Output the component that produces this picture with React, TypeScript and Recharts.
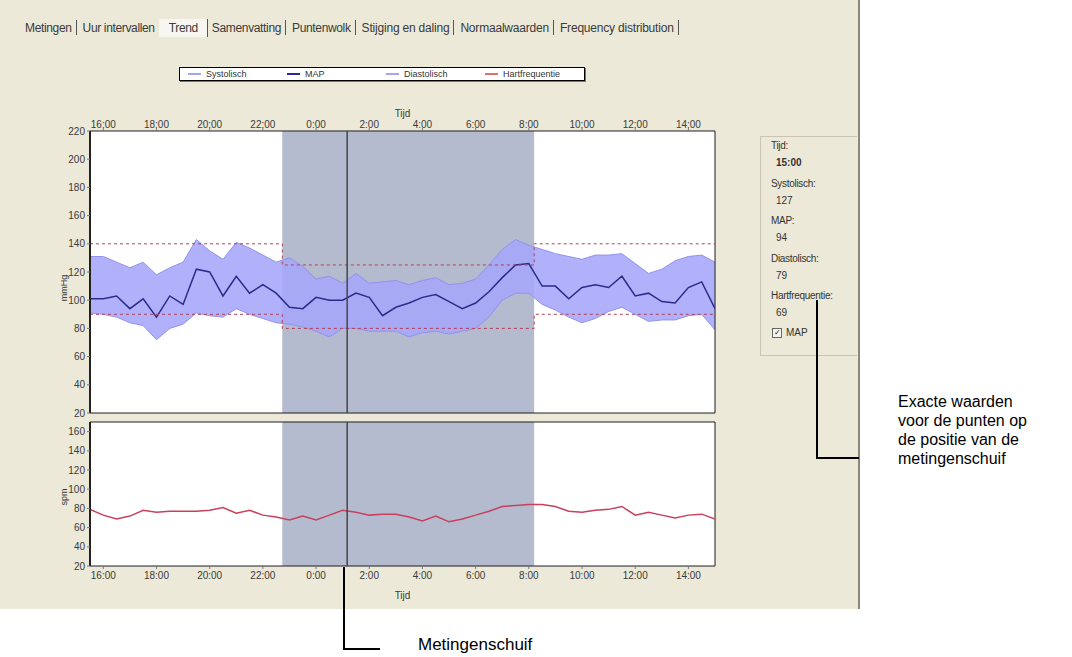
import React from "react";
import { ComposedChart, Area, Line, XAxis, YAxis, CartesianGrid, ReferenceArea, ReferenceLine } from "recharts";

// hours after 16:00 (first reading 15:30, last 15:00 next day)
const hours = [-0.5, 0, 0.5, 1, 1.5, 2, 2.5, 3, 3.5, 4, 4.5, 5, 5.5, 6, 6.5, 7, 7.5, 8, 8.5, 9, 9.5, 10, 10.5, 11, 11.5, 12, 12.5, 13, 13.5, 14, 14.5, 15, 15.5, 16, 16.5, 17, 17.5, 18, 18.5, 19, 19.5, 20, 20.5, 21, 21.5, 22, 22.5, 23];
const systolic = [131, 131, 127, 123, 127, 118, 123, 127, 143, 135, 129, 141, 137, 132, 127, 130, 124, 115, 117, 112, 119, 112, 113, 114, 111, 114, 116, 111, 112, 115, 125, 136, 143, 139, 136, 133, 131, 129, 132, 132, 133, 126, 119, 122, 128, 131, 132, 127];
const mapValues = [101, 101, 103, 94, 101, 88, 103, 97, 122, 120, 103, 117, 105, 111, 105, 95, 94, 102, 100, 100, 105, 102, 89, 95, 98, 102, 104, 99, 94, 98, 106, 116, 125, 126, 110, 110, 101, 109, 111, 109, 117, 103, 105, 99, 98, 109, 113, 94];
const diastolic = [91, 90, 88, 84, 82, 72, 80, 83, 91, 89, 88, 94, 90, 87, 84, 83, 81, 78, 74, 80, 80, 78, 78, 78, 74, 77, 78, 76, 78, 80, 88, 100, 105, 105, 97, 93, 88, 84, 87, 92, 95, 90, 85, 86, 86, 89, 90, 79];
const heartRate = [79, 73, 69, 72, 78, 76, 77, 77, 77, 78, 81, 75, 78, 73, 71, 68, 72, 68, 73, 78, 76, 73, 74, 74, 71, 67, 72, 66, 69, 73, 77, 82, 83, 84, 84, 82, 77, 76, 78, 79, 82, 73, 76, 73, 70, 73, 74, 69];

// day / night limits
const limitTimes = [-0.5, 6.73, 16.2, 23];
const sysLimit = [140, 125, 140, 140];
const diaLimit = [90, 80, 90, 90];
const nightTimes = [6.73, 16.2];
const cursorTime = 9.17;

const xDomain = [-0.5, 23];
const bpDomain = [20, 220];
const hrDomain = [20, 170];
const xTicks = [0, 2, 4, 6, 8, 10, 12, 14, 16, 18, 20, 22];
const xTickLabels = ["16:00", "18:00", "20:00", "22:00", "0:00", "2:00", "4:00", "6:00", "8:00", "10:00", "12:00", "14:00"];
const bpTicks = [20, 40, 60, 80, 100, 120, 140, 160, 180, 200, 220];
const hrTicks = [20, 40, 60, 80, 100, 120, 140, 160];

const tabs = ["Metingen", "Uur intervallen", "Trend", "Samenvatting", "Puntenwolk", "Stijging en daling", "Normaalwaarden", "Frequency distribution"];
const activeTab = "Trend";
const legendNames = ["Systolisch", "MAP", "Diastolisch", "Hartfrequentie"];
const legendColors = ["#a4a4f4", "#2b2b8c", "#a4a4f4", "#e07070"];
const panelLabels = ["Tijd:", "Systolisch:", "MAP:", "Diastolisch:", "Hartfrequentie:"];
const panelValues = ["15:00", "127", "94", "79", "69"];
const noteLines = ["Exacte waarden", "voor de punten op", "de positie van de", "metingenschuif"];

const data = hours.map((t, i) => ({ t, band: [diastolic[i], systolic[i]], map: mapValues[i], hr: heartRate[i] }));
const limitData = limitTimes.map((t, i) => ({ t, sys: sysLimit[i], dia: diaLimit[i] }));
const bpNight = nightTimes.map((t) => ({ t, night: bpDomain }));
const hrNight = nightTimes.map((t) => ({ t, night: hrDomain }));

const uiFont = "'Liberation Sans', Arial, sans-serif";
const tickStyle = { fontSize: 10, fill: "#3a3a3a", fontFamily: uiFont };
const fmt = (v: number) => xTickLabels[xTicks.indexOf(v)] ?? "";

const vLabel = (text: string, dy: number) => (props: any) => {
  const vb = props.viewBox;
  const x = vb.x + 4;
  const y = vb.y + vb.height / 2 + dy;
  return (
    <text x={x} y={y} transform={`rotate(-90 ${x} ${y})`} textAnchor="middle" dominantBaseline="central" style={{ ...tickStyle, fontSize: 9 } as any}>
      {text}
    </text>
  );
};

export default function App() {
  return (
    <div style={{ position: "absolute", left: 0, top: 0, width: 1072, height: 657, background: "#fff", fontFamily: uiFont, overflow: "hidden" }}>
      {/* window */}
      <div style={{ position: "absolute", left: 0, top: 0, width: 858, height: 609, background: "#ece9d8", borderRight: "2px solid #8a8878" }} />

      {/* tabs */}
      <div style={{ position: "absolute", left: 21, top: 19, height: 17, display: "flex", alignItems: "center", fontSize: 12, color: "#3a3a3a" }}>
        {tabs.map((name, i) => {
          const active = name === activeTab;
          const sep = i < tabs.length - 1 ? tabs[i + 1] !== activeTab : true;
          return (
            <div key={name} style={{ display: "flex", alignItems: "center", height: 18, background: active ? "#f7f6f0" : "transparent", padding: active ? "0 0 0 10px" : "0 0 0 4px" }}>
              <span style={{ letterSpacing: i > 4 ? -0.2 : -0.35 }}>{name}</span>
              {active && <span style={{ width: 1, height: 18, background: "#555", marginLeft: 9 }} />}
              {!active && sep && <span style={{ width: 1, height: 15, background: "#555", marginLeft: 4, marginRight: 2 }} />}
              {!active && !sep && <span style={{ width: 1, marginLeft: 3 }} />}
            </div>
          );
        })}
      </div>

      {/* legend */}
      <div style={{ position: "absolute", left: 179, top: 67, width: 406, height: 14, boxSizing: "border-box", border: "1px solid #000", background: "#fff", boxShadow: "1px 1px 0 #777", display: "flex", alignItems: "center", paddingLeft: 8, fontSize: 9, color: "#333" }}>
        {legendNames.map((n, i) => (
          <div key={n} style={{ width: 103, display: "flex", alignItems: "center" }}>
            <span style={{ width: 13, height: 1.5, background: legendColors[i], marginRight: 5 }} />
            <span>{n}</span>
          </div>
        ))}
      </div>

      {/* blood pressure chart */}
      <div style={{ position: "absolute", left: 0, top: 95 }}>
        <ComposedChart width={740} height={325} data={data} margin={{ top: 6, right: 25, bottom: 7, left: 60 }}>
          <rect x={90} y={36} width={625} height={282} fill="#fff" />
          <CartesianGrid stroke="#d6d6d6" />
          <Area data={bpNight} dataKey="night" type="linear" fill="#5a6894" fillOpacity={0.45} stroke="none" isAnimationActive={false} />
          <Area dataKey="band" type="linear" fill="#a6a6fa" fillOpacity={0.88} stroke="#9292ee" strokeWidth={1} isAnimationActive={false} />
          <Line dataKey="map" type="linear" stroke="#2b2b8c" strokeWidth={1.5} dot={false} isAnimationActive={false} />
          <Line data={limitData} dataKey="sys" type="stepAfter" stroke="#b0405a" strokeWidth={1} strokeDasharray="3 3" dot={false} isAnimationActive={false} />
          <Line data={limitData} dataKey="dia" type="stepAfter" stroke="#b0405a" strokeWidth={1} strokeDasharray="3 3" dot={false} isAnimationActive={false} />
          <ReferenceLine x={cursorTime} stroke="#454545" strokeWidth={1.5} />
          <ReferenceArea x1={xDomain[0]} x2={xDomain[1]} y1={bpDomain[0]} y2={bpDomain[1]} fill="none" stroke="#222" strokeWidth={1} />
          <XAxis dataKey="t" type="number" orientation="top" domain={xDomain} ticks={xTicks} tickFormatter={fmt} height={30} axisLine={false} tickSize={3} tickMargin={0} tickLine={{ stroke: "#777" }} tick={tickStyle} allowDataOverflow
            label={{ value: "Tijd", position: "insideTop", offset: 9, style: tickStyle }} />
          <YAxis type="number" domain={bpDomain} ticks={bpTicks} width={30} axisLine={{ stroke: "#222", strokeWidth: 2 }} tickSize={3} tickMargin={2} tickLine={{ stroke: "#777" }} tick={tickStyle} allowDataOverflow
            label={{ content: vLabel("mmHg", 16) }} />
        </ComposedChart>
      </div>

      {/* heart rate chart */}
      <div style={{ position: "absolute", left: 0, top: 415 }}>
        <ComposedChart width={740} height={195} data={data} margin={{ top: 7, right: 25, bottom: 14, left: 60 }}>
          <rect x={90} y={7} width={625} height={144} fill="#fff" />
          <CartesianGrid stroke="#d6d6d6" />
          <Area data={hrNight} dataKey="night" type="linear" fill="#5a6894" fillOpacity={0.45} stroke="none" isAnimationActive={false} />
          <Line dataKey="hr" type="linear" stroke="#c8405c" strokeWidth={1.5} dot={false} isAnimationActive={false} />
          <ReferenceLine x={cursorTime} stroke="#454545" strokeWidth={1.5} />
          <ReferenceArea x1={xDomain[0]} x2={xDomain[1]} y1={hrDomain[0]} y2={hrDomain[1]} fill="none" stroke="#222" strokeWidth={1} />
          <XAxis dataKey="t" type="number" domain={xDomain} ticks={xTicks} tickFormatter={fmt} height={30} axisLine={false} tickSize={3} tickMargin={3} tickLine={{ stroke: "#777" }} tick={tickStyle} allowDataOverflow
            label={{ value: "Tijd", position: "insideBottom", offset: -3, style: tickStyle }} />
          <YAxis type="number" domain={hrDomain} ticks={hrTicks} width={30} axisLine={{ stroke: "#222", strokeWidth: 2 }} tickSize={3} tickMargin={2} tickLine={{ stroke: "#777" }} tick={tickStyle} allowDataOverflow
            label={{ content: vLabel("spm", 3) }} />
        </ComposedChart>
      </div>

      {/* value panel */}
      <div style={{ position: "absolute", left: 760, top: 136, width: 96, height: 218, borderLeft: "1px solid #c9c5b2", borderBottom: "1px solid #c9c5b2", borderTop: "1px solid #c9c5b2", fontSize: 10, color: "#333" }}>
        {panelLabels.map((l, i) => (
          <div key={l} style={{ position: "absolute", left: 10, top: 2 + i * 37.5 }}>
            <div style={{ height: 14, lineHeight: "14px", letterSpacing: -0.3 }}>{l}</div>
            <div style={{ height: 18, lineHeight: "20px", paddingLeft: 5, fontWeight: i === 0 ? 600 : 400 }}>{panelValues[i]}</div>
          </div>
        ))}
        <div style={{ position: "absolute", left: 11, top: 190, display: "flex", alignItems: "center" }}>
          <span style={{ width: 8, height: 8, border: "1px solid #666", background: "#f4f4f4", fontSize: 8, lineHeight: "8px", textAlign: "center", color: "#222" }}>✓</span>
          <span style={{ marginLeft: 4 }}>MAP</span>
        </div>
      </div>

      {/* callout: panel */}
      <div style={{ position: "absolute", left: 816, top: 300, width: 1.5, height: 158, background: "#000" }} />
      <div style={{ position: "absolute", left: 816, top: 457, width: 43, height: 1.5, background: "#000" }} />
      <div style={{ position: "absolute", left: 898, top: 392, fontFamily: uiFont, fontSize: 16, lineHeight: "19px", color: "#000" }}>
        {noteLines.map((l) => (
          <div key={l}>{l}</div>
        ))}
      </div>

      {/* callout: slider */}
      <div style={{ position: "absolute", left: 343, top: 567, width: 1.5, height: 82, background: "#000" }} />
      <div style={{ position: "absolute", left: 343, top: 648, width: 37, height: 1.5, background: "#000" }} />
      <div style={{ position: "absolute", left: 418, top: 635, fontFamily: uiFont, fontSize: 17, color: "#000" }}>Metingenschuif</div>
    </div>
  );
}
